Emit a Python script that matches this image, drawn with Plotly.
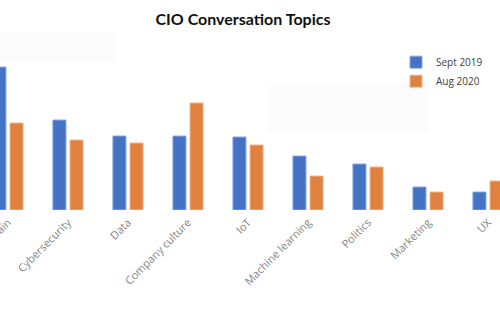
import plotly.graph_objects as go

categories = ["Blockchain", "Cybersecurity", "Data", "Company culture", "IoT",
              "Machine learning", "Politics", "Marketing", "UX"]
sept_2019 = [143, 90, 74, 74, 73, 54, 46, 23, 18]
aug_2020 = [87, 70, 67, 107, 65, 34, 43, 18, 29]

fig = go.Figure()
fig.add_trace(go.Bar(name="Sept 2019", x=categories, y=sept_2019,
                     marker=dict(color="#4472C4", line=dict(color="#8FA9DC", width=1))))
fig.add_trace(go.Bar(name="Aug 2020", x=categories, y=aug_2020,
                     marker=dict(color="#E0813F", line=dict(color="#F2B68C", width=1))))

fig.update_layout(
    width=500, height=330,
    margin=dict(l=0, r=0, t=40, b=120, autoexpand=False),
    paper_bgcolor="white", plot_bgcolor="white",
    barmode="group", bargap=0.43, bargroupgap=0.235,
    title=dict(text="<b>CIO Conversation Topics</b>", x=0.486, xanchor="center",
               y=0.94, yanchor="middle",
               font=dict(family="Lato", size=16, color="#111111")),
    legend=dict(x=0.792, y=0.955, xanchor="left", yanchor="top",
                font=dict(family="Open Sans", size=10, color="#404040"),
                bgcolor="rgba(0,0,0,0)", itemwidth=30, tracegroupgap=0),
    xaxis=dict(range=[-0.133, 8.2], showgrid=False, showline=False, zeroline=False,
               ticks="", tickangle=-45, automargin=False, ticklabelstandoff=3,
               tickfont=dict(family="Open Sans", size=11, color="#858585")),
    yaxis=dict(range=[0, 170], visible=False, automargin=False),
    shapes=[
        dict(type="rect", xref="paper", yref="paper", x0=0, x1=0.23, y0=0.87, y1=1.05,
             fillcolor="#fbfbfb", line=dict(width=0), layer="below"),
        dict(type="rect", xref="paper", yref="paper", x0=0.534, x1=0.86, y0=0.46, y1=0.75,
             fillcolor="#fcfcfc", line=dict(width=0), layer="below"),
    ],
)

fig.write_html("out.html")
